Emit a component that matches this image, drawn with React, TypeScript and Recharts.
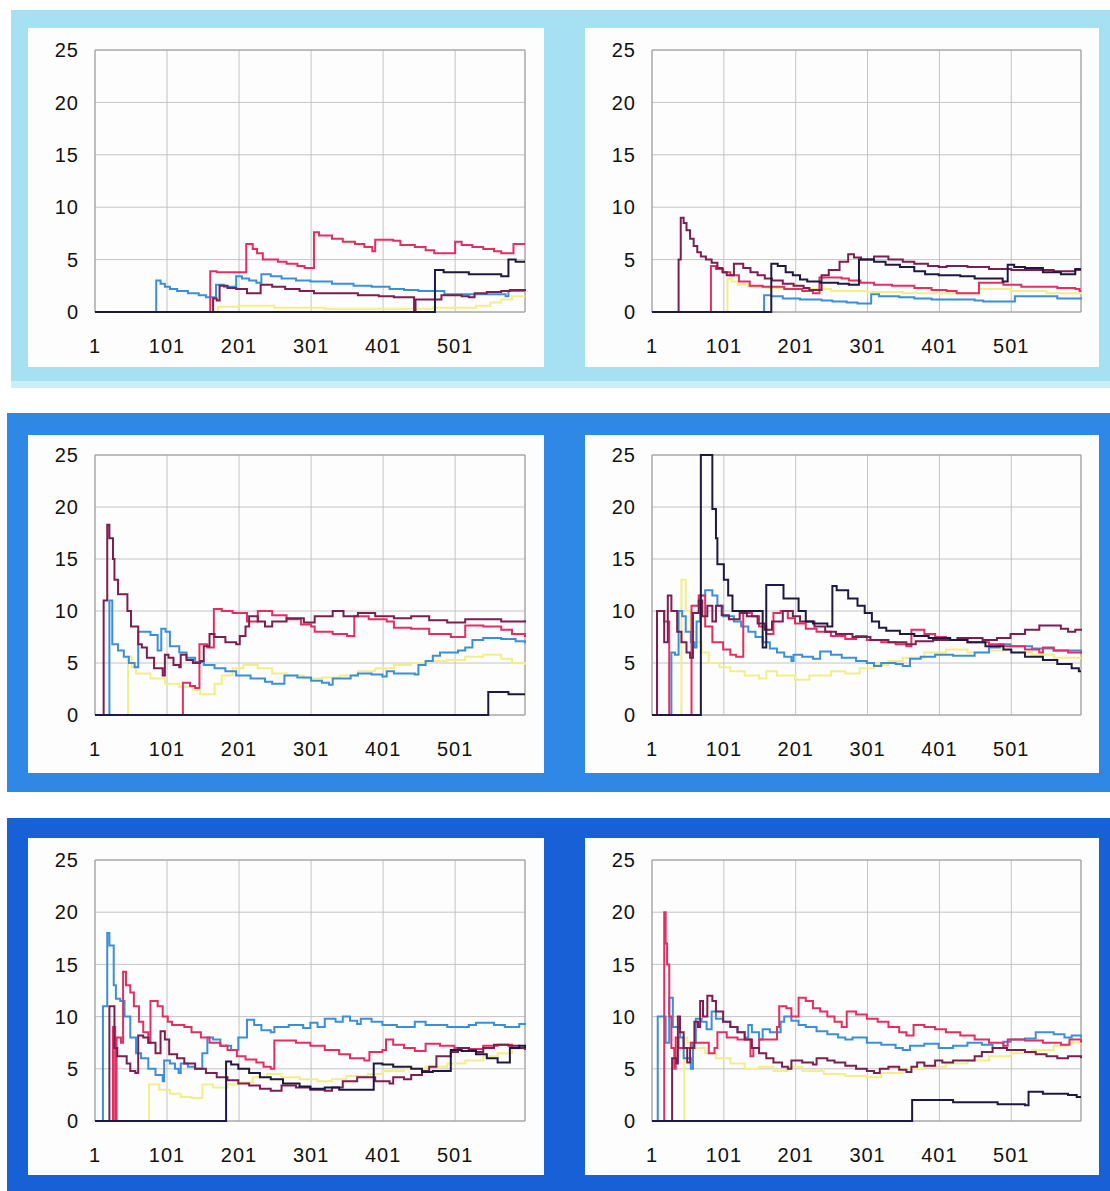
import { CartesianGrid, Line, LineChart, ReferenceArea, XAxis, YAxis } from 'recharts'

// 六组运行曲线（阶梯状累计均值），每组 5 条序列：[步数, 值]
type Pt = [number, number]

const X_TICKS = [1, 101, 201, 301, 401, 501]
const Y_TICKS = [0, 5, 10, 15, 20, 25]
const X_MAX = 598

// ---- 第一行 左 ----
const tlYellow: Pt[] = [[1, 0], [172, 0.5], [200, 0.6], [250, 0.4], [320, 0.3], [400, 0.3], [470, 0.4], [530, 0.6], [550, 0.9], [565, 1.2], [580, 1.5], [598, 1.5]]
const tlBlue: Pt[] = [[1, 0], [86, 3.0], [92, 2.7], [98, 2.4], [105, 2.2], [115, 2.0], [130, 1.8], [145, 1.6], [155, 1.4], [169, 2.6], [180, 2.4], [197, 3.4], [205, 3.2], [215, 3.0], [225, 2.8], [232, 3.6], [245, 3.4], [260, 3.2], [280, 3.0], [300, 2.9], [330, 2.7], [360, 2.5], [385, 2.4], [410, 2.2], [430, 2.1], [450, 2.0], [486, 1.7], [571, 1.5], [575, 2.0], [598, 2.0]]
const tlRed: Pt[] = [[1, 0], [161, 3.9], [170, 3.8], [211, 6.5], [220, 6.0], [226, 5.6], [234, 5.0], [255, 4.8], [267, 4.6], [282, 4.4], [292, 4.2], [305, 7.6], [312, 7.3], [330, 7.0], [345, 6.7], [362, 6.5], [375, 6.2], [386, 5.8], [390, 6.9], [415, 6.8], [425, 6.4], [445, 6.2], [460, 5.9], [472, 5.6], [501, 6.7], [510, 6.4], [525, 6.2], [540, 6.0], [555, 5.8], [565, 5.6], [582, 6.5], [598, 6.5]]
const tlMaroon: Pt[] = [[1, 0], [165, 1.3], [170, 1.1], [174, 2.5], [185, 2.3], [197, 2.2], [212, 1.8], [231, 2.6], [247, 2.4], [265, 2.2], [285, 2.0], [305, 1.8], [366, 1.6], [395, 1.5], [416, 1.4], [444, 0], [446, 1.2], [482, 1.6], [510, 1.5], [520, 1.4], [528, 1.8], [545, 1.9], [565, 2.0], [577, 2.1], [598, 2.0]]
const tlNavy: Pt[] = [[1, 0], [473, 4.0], [485, 3.8], [520, 3.6], [565, 3.4], [575, 5.0], [585, 4.8], [598, 4.8]]

// ---- 第一行 右 ----
const trYellow: Pt[] = [[1, 0], [106, 3.2], [112, 2.9], [120, 2.6], [135, 2.4], [160, 2.3], [200, 2.2], [250, 2.0], [300, 1.9], [350, 1.8], [456, 2.2], [500, 2.0], [550, 1.8], [598, 1.7]]
const trBlue: Pt[] = [[1, 0], [157, 1.6], [167, 1.5], [183, 1.3], [207, 1.2], [237, 1.1], [252, 1.0], [272, 0.9], [287, 0.8], [306, 1.7], [317, 1.5], [345, 1.4], [366, 1.3], [390, 1.2], [450, 1.1], [462, 1.0], [506, 1.5], [565, 1.3], [598, 1.2]]
const trRed: Pt[] = [[1, 0], [83, 4.4], [90, 4.1], [100, 3.8], [110, 3.5], [122, 2.9], [137, 2.5], [155, 2.4], [185, 2.2], [210, 2.0], [225, 1.8], [234, 3.3], [265, 3.2], [275, 3.0], [291, 2.8], [310, 2.6], [335, 2.5], [366, 2.3], [390, 2.1], [411, 2.0], [425, 1.8], [456, 2.8], [490, 2.6], [515, 2.4], [565, 2.3], [590, 2.2], [596, 2.0], [598, 2.0]]
const trMaroon: Pt[] = [[1, 0], [38, 5.0], [41, 9.0], [45, 8.5], [49, 7.8], [54, 7.0], [59, 6.3], [64, 5.7], [69, 5.3], [76, 5.0], [84, 4.7], [92, 4.2], [99, 3.8], [105, 3.5], [115, 4.6], [128, 4.2], [138, 3.8], [148, 3.5], [158, 3.2], [168, 3.0], [183, 2.7], [198, 2.5], [212, 2.3], [220, 2.1], [237, 3.5], [247, 4.0], [262, 4.8], [274, 5.5], [282, 5.2], [292, 5.0], [310, 5.3], [330, 5.0], [350, 4.8], [366, 4.6], [385, 4.4], [400, 4.3], [411, 4.4], [440, 4.3], [470, 4.1], [501, 4.0], [560, 3.9], [590, 4.0], [598, 4.0]]
const trNavy: Pt[] = [[1, 0], [167, 4.6], [176, 4.4], [187, 3.8], [197, 3.5], [207, 3.1], [217, 2.9], [235, 2.8], [260, 2.7], [275, 2.6], [289, 5.0], [310, 4.8], [326, 4.5], [346, 4.3], [366, 3.9], [381, 3.6], [400, 3.5], [430, 3.4], [450, 3.2], [489, 2.9], [496, 4.5], [505, 4.3], [520, 4.2], [545, 3.8], [570, 3.6], [590, 4.1], [598, 4.1]]

// ---- 第二行 左 ----
const mlYellow: Pt[] = [[1, 0], [47, 5.6], [52, 4.6], [58, 4.0], [78, 3.5], [98, 3.0], [118, 2.7], [137, 2.4], [147, 2.0], [167, 3.0], [177, 3.8], [192, 4.5], [207, 4.8], [227, 4.5], [247, 4.0], [267, 3.8], [291, 3.5], [316, 3.6], [341, 3.8], [366, 4.2], [390, 4.5], [416, 4.8], [440, 5.0], [465, 5.2], [490, 5.3], [515, 5.6], [540, 5.8], [565, 5.4], [580, 5.0], [598, 4.8]]
const mlBlue: Pt[] = [[1, 0], [21, 11.0], [25, 6.8], [33, 6.2], [41, 5.6], [48, 5.0], [56, 4.6], [61, 8.0], [78, 7.7], [88, 6.2], [93, 8.3], [99, 8.0], [105, 6.6], [118, 6.0], [128, 5.5], [140, 5.1], [152, 4.8], [167, 4.5], [182, 4.2], [197, 3.8], [217, 3.5], [237, 3.2], [247, 3.0], [264, 3.8], [282, 3.6], [301, 3.3], [316, 3.1], [326, 2.9], [331, 3.5], [356, 3.8], [366, 4.0], [385, 3.9], [400, 3.7], [406, 4.2], [416, 4.0], [445, 3.9], [450, 4.8], [460, 5.2], [470, 5.7], [480, 6.0], [505, 6.2], [515, 6.5], [525, 7.2], [540, 7.4], [565, 7.3], [585, 7.1], [598, 6.9]]
const mlRed: Pt[] = [[1, 0], [123, 3.1], [133, 2.8], [140, 2.6], [146, 6.8], [157, 6.5], [166, 10.2], [177, 10.0], [192, 9.8], [212, 9.0], [227, 10.0], [247, 9.6], [267, 9.2], [287, 8.7], [301, 8.5], [306, 8.0], [331, 7.8], [351, 7.6], [361, 9.5], [381, 9.2], [406, 9.0], [416, 8.4], [440, 8.3], [465, 7.8], [495, 7.5], [515, 8.6], [540, 8.5], [565, 8.2], [580, 7.8], [598, 7.5]]
const mlMaroon: Pt[] = [[1, 0], [13, 11.0], [18, 18.3], [21, 17.0], [26, 15.0], [28, 13.0], [33, 11.6], [46, 10.0], [51, 8.5], [61, 6.8], [66, 6.5], [73, 5.5], [83, 4.5], [95, 3.8], [98, 5.8], [103, 5.5], [110, 4.8], [118, 4.6], [120, 5.8], [128, 5.3], [137, 5.0], [147, 5.2], [152, 6.6], [160, 7.8], [167, 7.5], [182, 7.0], [197, 6.8], [202, 7.6], [210, 8.5], [215, 9.5], [227, 9.0], [237, 8.5], [247, 9.0], [267, 9.3], [291, 8.9], [306, 9.5], [331, 10.0], [346, 9.5], [366, 9.8], [390, 9.5], [416, 9.3], [440, 9.5], [465, 9.1], [490, 8.9], [515, 9.2], [565, 9.0], [598, 9.1]]
const mlNavy: Pt[] = [[1, 0], [547, 2.2], [575, 2.0], [598, 2.0]]

// ---- 第二行 右 ----
const mrYellow: Pt[] = [[1, 0], [42, 13.0], [48, 10.0], [55, 8.0], [62, 7.0], [70, 6.0], [80, 5.0], [95, 4.6], [110, 4.2], [130, 3.8], [150, 3.5], [160, 4.2], [175, 3.8], [200, 3.4], [220, 3.8], [250, 4.2], [270, 4.0], [290, 4.5], [310, 4.8], [330, 5.2], [350, 5.5], [380, 6.0], [410, 6.3], [440, 6.0], [470, 6.2], [500, 6.0], [530, 5.8], [560, 5.5], [598, 5.5]]
const mrBlue: Pt[] = [[1, 0], [28, 6.0], [33, 5.8], [38, 10.0], [43, 9.5], [48, 8.0], [55, 7.0], [60, 6.5], [63, 9.0], [68, 11.5], [75, 12.0], [85, 11.5], [92, 10.5], [100, 9.5], [115, 9.0], [125, 8.5], [135, 8.0], [145, 7.5], [155, 7.0], [165, 6.4], [175, 6.0], [185, 5.6], [195, 5.2], [198, 5.8], [210, 5.6], [225, 5.4], [235, 6.1], [250, 5.8], [265, 5.5], [285, 5.2], [300, 5.0], [310, 4.7], [320, 5.0], [340, 4.9], [350, 4.7], [360, 5.4], [375, 5.6], [395, 5.8], [420, 5.7], [450, 6.0], [470, 6.5], [485, 6.8], [500, 6.6], [530, 6.4], [560, 6.2], [598, 6.0]]
const mrRed: Pt[] = [[1, 0], [8, 10.0], [18, 9.0], [25, 0], [55, 0], [56, 10.5], [66, 11.5], [75, 8.5], [85, 7.0], [100, 6.3], [110, 5.8], [118, 5.6], [128, 9.8], [140, 9.5], [150, 8.5], [160, 7.8], [170, 9.8], [180, 10.0], [190, 9.3], [200, 8.8], [215, 8.3], [230, 8.0], [250, 7.6], [270, 7.3], [285, 7.6], [300, 7.2], [320, 7.0], [340, 6.8], [355, 6.6], [362, 8.2], [380, 7.8], [395, 7.5], [410, 7.2], [440, 7.0], [470, 6.8], [490, 6.6], [520, 6.3], [540, 6.0], [545, 6.5], [560, 6.2], [580, 6.0], [598, 5.9]]
const mrMaroon: Pt[] = [[1, 0], [8, 10.0], [18, 7.0], [23, 11.5], [28, 10.0], [36, 8.0], [42, 7.0], [49, 6.0], [54, 5.5], [58, 9.8], [66, 11.0], [71, 9.5], [78, 10.5], [85, 9.0], [90, 10.5], [98, 9.6], [108, 9.2], [123, 9.8], [133, 9.5], [148, 8.8], [158, 8.2], [168, 9.0], [183, 10.0], [197, 9.5], [207, 9.0], [227, 8.5], [242, 8.0], [257, 7.8], [280, 7.5], [305, 7.2], [330, 7.0], [355, 6.8], [368, 7.1], [392, 7.2], [426, 7.4], [461, 7.2], [481, 7.4], [500, 7.8], [520, 8.2], [540, 8.6], [570, 8.3], [580, 8.0], [590, 8.2], [598, 8.1]]
const mrNavy: Pt[] = [[1, 0], [69, 25.0], [85, 19.8], [90, 17.0], [92, 14.5], [101, 13.0], [107, 11.5], [113, 10.0], [155, 6.5], [160, 12.5], [184, 11.2], [205, 10.0], [215, 9.0], [225, 8.8], [245, 8.5], [252, 12.4], [258, 12.0], [274, 11.2], [287, 10.5], [297, 9.8], [307, 9.0], [317, 8.4], [327, 8.1], [346, 7.8], [366, 7.6], [386, 7.4], [416, 7.2], [440, 7.0], [465, 6.6], [490, 6.3], [501, 6.0], [520, 5.6], [545, 5.3], [565, 4.9], [585, 4.5], [595, 4.2], [598, 4.2]]

// ---- 第三行 左 ----
const blYellow: Pt[] = [[1, 0], [76, 3.5], [90, 3.0], [105, 2.6], [120, 2.3], [135, 2.2], [150, 3.5], [165, 3.2], [185, 3.5], [200, 3.7], [220, 4.2], [240, 4.5], [260, 4.2], [285, 4.0], [310, 3.8], [330, 4.0], [350, 4.3], [380, 4.5], [400, 4.8], [430, 5.0], [460, 5.2], [490, 5.5], [515, 5.8], [540, 6.2], [560, 6.5], [580, 6.9], [598, 7.1]]
const blBlue: Pt[] = [[1, 0], [12, 11.0], [18, 18.0], [21, 16.8], [27, 13.0], [30, 11.7], [36, 11.5], [42, 10.0], [50, 8.0], [58, 6.5], [65, 6.0], [75, 5.0], [85, 4.4], [95, 3.8], [97, 5.8], [105, 5.5], [112, 5.0], [117, 4.6], [120, 5.5], [130, 5.2], [140, 5.0], [150, 6.5], [157, 8.0], [165, 7.8], [175, 7.2], [190, 6.8], [200, 8.0], [212, 9.7], [222, 9.2], [232, 8.7], [245, 8.5], [250, 9.0], [270, 9.2], [290, 8.9], [300, 9.4], [310, 9.0], [320, 9.8], [335, 9.5], [345, 10.0], [355, 9.6], [365, 9.3], [370, 9.8], [385, 9.5], [400, 9.2], [420, 9.0], [445, 9.5], [460, 9.2], [490, 9.0], [520, 9.2], [530, 9.4], [555, 9.2], [570, 9.0], [590, 9.3], [598, 9.2]]
const blRed: Pt[] = [[1, 0], [26, 9.0], [29, 0], [31, 8.0], [37, 7.5], [40, 14.3], [44, 13.0], [50, 12.3], [55, 11.0], [62, 9.5], [68, 8.5], [75, 7.5], [78, 11.5], [88, 11.0], [95, 10.0], [102, 9.5], [108, 9.2], [125, 9.0], [135, 8.5], [148, 8.0], [160, 7.5], [175, 7.2], [185, 6.8], [198, 6.2], [210, 5.9], [225, 5.6], [235, 5.2], [245, 5.0], [250, 7.7], [280, 7.5], [300, 7.2], [320, 6.8], [340, 6.4], [355, 6.0], [375, 5.8], [382, 6.6], [400, 6.8], [405, 7.8], [415, 7.3], [430, 7.0], [445, 6.7], [460, 7.4], [480, 7.2], [500, 7.0], [520, 6.9], [540, 7.2], [560, 7.3], [580, 7.0], [598, 6.8]]
const blMaroon: Pt[] = [[1, 0], [21, 11.0], [28, 7.0], [32, 6.2], [45, 5.5], [50, 4.8], [57, 4.6], [61, 8.2], [68, 8.0], [75, 7.5], [85, 6.5], [92, 8.6], [98, 7.8], [104, 6.4], [115, 6.0], [125, 5.5], [140, 5.0], [155, 4.6], [170, 4.2], [185, 3.9], [200, 3.6], [215, 3.4], [230, 3.1], [245, 2.9], [260, 3.4], [280, 3.2], [300, 3.0], [320, 2.9], [330, 3.2], [345, 3.8], [365, 4.2], [390, 3.8], [410, 3.6], [415, 4.2], [430, 4.0], [440, 4.4], [455, 4.8], [465, 5.2], [475, 6.2], [495, 6.6], [505, 7.0], [520, 6.8], [530, 6.6], [540, 7.0], [555, 7.3], [575, 7.2], [590, 7.0], [598, 6.8]]
const blNavy: Pt[] = [[1, 0], [183, 5.7], [190, 5.4], [200, 5.0], [215, 4.6], [230, 4.2], [245, 4.0], [262, 3.6], [285, 3.3], [300, 3.1], [320, 3.2], [340, 3.0], [388, 5.5], [400, 5.4], [415, 5.2], [440, 5.0], [455, 4.7], [470, 4.8], [495, 6.8], [510, 6.7], [530, 6.4], [545, 6.0], [560, 5.6], [577, 7.0], [590, 7.2], [598, 7.0]]

// ---- 第三行 右 ----
const brYellow: Pt[] = [[1, 0], [46, 8.0], [50, 7.5], [60, 7.0], [75, 6.5], [90, 6.0], [110, 5.5], [130, 5.0], [150, 5.2], [170, 4.8], [190, 5.2], [210, 4.8], [240, 4.5], [270, 4.3], [300, 4.2], [320, 4.6], [350, 5.0], [380, 5.2], [410, 5.5], [440, 5.8], [470, 6.2], [500, 6.5], [530, 6.8], [560, 7.2], [580, 7.5], [598, 7.6]]
const brBlue: Pt[] = [[1, 0], [9, 10.0], [20, 7.5], [25, 11.8], [30, 9.0], [40, 8.0], [45, 6.0], [55, 5.0], [58, 7.5], [62, 9.8], [70, 9.5], [77, 8.8], [84, 10.5], [90, 9.8], [100, 9.5], [110, 9.0], [120, 8.5], [130, 8.0], [135, 9.2], [140, 8.5], [150, 7.8], [155, 8.8], [165, 8.5], [180, 9.5], [185, 10.0], [195, 9.6], [205, 9.2], [215, 9.0], [230, 8.6], [245, 8.3], [260, 8.0], [270, 7.8], [280, 8.0], [300, 7.5], [320, 7.3], [340, 7.0], [350, 6.8], [360, 7.2], [380, 7.4], [400, 7.0], [420, 7.2], [440, 7.5], [460, 7.3], [475, 7.0], [490, 7.6], [500, 7.8], [520, 7.9], [535, 8.5], [560, 8.3], [575, 8.0], [585, 8.2], [598, 8.0]]
const brRed: Pt[] = [[1, 0], [18, 20.0], [20, 17.0], [22, 15.0], [25, 10.0], [28, 7.0], [32, 5.0], [34, 8.0], [38, 7.0], [55, 7.5], [80, 6.5], [88, 7.0], [92, 8.5], [105, 8.0], [120, 7.8], [138, 6.2], [142, 7.0], [150, 7.8], [175, 9.0], [178, 11.0], [188, 10.8], [195, 10.0], [205, 11.8], [215, 11.5], [225, 10.8], [235, 10.5], [245, 10.0], [255, 9.5], [265, 9.0], [272, 10.5], [285, 10.2], [300, 9.8], [315, 9.5], [330, 9.0], [345, 8.5], [355, 8.2], [365, 9.2], [380, 9.0], [395, 8.8], [410, 8.5], [430, 8.2], [450, 7.8], [470, 7.5], [490, 7.2], [496, 7.8], [520, 7.7], [545, 7.5], [570, 7.3], [582, 7.8], [598, 7.5]]
const brMaroon: Pt[] = [[1, 0], [29, 6.0], [35, 5.5], [37, 10.0], [40, 8.5], [45, 7.0], [50, 5.6], [54, 7.0], [60, 9.5], [65, 9.0], [68, 11.5], [72, 10.0], [78, 12.0], [85, 11.5], [90, 10.5], [100, 9.5], [110, 9.0], [120, 8.5], [130, 7.8], [140, 7.0], [150, 6.5], [160, 6.0], [170, 5.6], [182, 5.2], [190, 5.0], [195, 5.8], [210, 5.6], [225, 5.4], [230, 6.0], [245, 5.8], [255, 5.6], [270, 5.3], [285, 5.0], [300, 4.8], [310, 4.6], [318, 5.0], [330, 5.2], [345, 4.9], [355, 4.7], [362, 5.2], [370, 5.6], [380, 5.3], [395, 5.8], [405, 5.6], [420, 5.8], [450, 6.2], [460, 6.6], [475, 7.0], [495, 6.8], [520, 6.6], [535, 6.4], [550, 6.2], [565, 6.0], [580, 6.2], [598, 6.0]]
const brNavy: Pt[] = [[1, 0], [363, 2.0], [420, 1.8], [482, 1.6], [520, 1.5], [525, 2.8], [545, 2.6], [580, 2.5], [592, 2.3], [598, 2.3]]

const COLORS = {
  yellow: '#f2ee88',
  blue: '#3b8fd9',
  red: '#e22f62',
  maroon: '#7b1e50',
  navy: '#1d1a42',
}

const toRows = (a: Pt[]) => a.map(([x, y]) => ({ x, y }))

type SeriesSet = [Pt[], Pt[], Pt[], Pt[], Pt[]]

function RunChart({
  left,
  top,
  width,
  height,
  plotTop,
  plotRight,
  plotBottom,
  series,
}: {
  left: number
  top: number
  width: number
  height: number
  plotTop: number
  plotRight: number
  plotBottom: number
  series: SeriesSet
}) {
  const keys = ['yellow', 'blue', 'red', 'maroon', 'navy'] as const
  const font = {
    fill: '#111',
    fontSize: 20,
    letterSpacing: 1,
    fontFamily: '"Liberation Sans", Arial, sans-serif',
  }
  return (
    <div style={{ position: 'absolute', left, top, width, height, background: '#fdfdfd' }}>
      <LineChart width={width} height={height} margin={{ top: plotTop, right: plotRight, left: 0, bottom: 0 }}>
        <CartesianGrid stroke="#c4c4c4" />
        <XAxis
          dataKey="x"
          type="number"
          domain={[1, X_MAX]}
          ticks={X_TICKS}
          height={plotBottom}
          tickSize={0}
          tickMargin={27}
          axisLine={false}
          tick={font}
          interval={0}
        />
        <YAxis
          type="number"
          domain={[0, 25]}
          ticks={Y_TICKS}
          width={67}
          tickSize={0}
          tickMargin={16}
          axisLine={false}
          tick={font}
          interval={0}
        />
        <ReferenceArea x1={1} x2={X_MAX} y1={0} y2={25} fill="none" stroke="#9a9a9a" strokeWidth={1} />
        {keys.map((k, i) => (
          <Line
            key={k}
            data={toRows(series[i])}
            dataKey="y"
            type="stepAfter"
            stroke={COLORS[k]}
            strokeWidth={2}
            dot={false}
            activeDot={false}
            isAnimationActive={false}
          />
        ))}
      </LineChart>
    </div>
  )
}

export default function App() {
  return (
    <div style={{ position: 'absolute', left: 0, top: 0, width: 1110, height: 1191, background: '#ffffff', overflow: 'hidden' }}>
      {/* 三条底色带 */}
      <div style={{ position: 'absolute', left: 11, top: 10, width: 1099, height: 378, background: '#c9eff9' }} />
      <div style={{ position: 'absolute', left: 11, top: 10, width: 1099, height: 371, background: '#a6e1f3' }} />
      <div style={{ position: 'absolute', left: 7, top: 413, width: 1103, height: 379, background: '#2f87e6' }} />
      <div style={{ position: 'absolute', left: 7, top: 818, width: 1103, height: 373, background: '#1860d6' }} />

      <RunChart left={28} top={28} width={516} height={339} plotTop={22} plotRight={19} plotBottom={55}
        series={[tlYellow, tlBlue, tlRed, tlMaroon, tlNavy]} />
      <RunChart left={585} top={28} width={514} height={339} plotTop={22} plotRight={18} plotBottom={55}
        series={[trYellow, trBlue, trRed, trMaroon, trNavy]} />

      <RunChart left={28} top={435} width={516} height={338} plotTop={20} plotRight={19} plotBottom={58}
        series={[mlYellow, mlBlue, mlRed, mlMaroon, mlNavy]} />
      <RunChart left={585} top={435} width={514} height={338} plotTop={20} plotRight={18} plotBottom={58}
        series={[mrYellow, mrBlue, mrRed, mrMaroon, mrNavy]} />

      <RunChart left={28} top={838} width={516} height={337} plotTop={22} plotRight={19} plotBottom={54}
        series={[blYellow, blBlue, blRed, blMaroon, blNavy]} />
      <RunChart left={585} top={838} width={514} height={337} plotTop={22} plotRight={18} plotBottom={54}
        series={[brYellow, brBlue, brRed, brMaroon, brNavy]} />
    </div>
  )
}
